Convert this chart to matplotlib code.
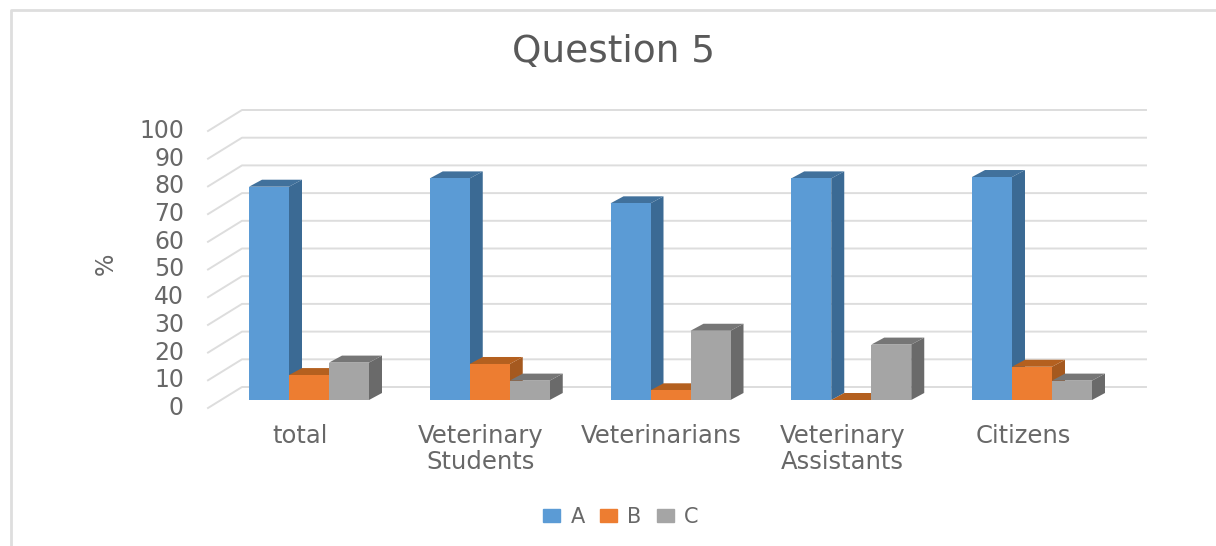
import matplotlib
matplotlib.use('Agg')
import numpy as np
import matplotlib.pyplot as plt
from matplotlib.patches import Polygon, Rectangle, Patch

categories = ['total', 'Veterinary\nStudents', 'Veterinarians', 'Veterinary\nAssistants', 'Citizens']
series_a = [77, 80, 71, 80, 80.5]
series_b = [9, 13, 3.5, 0, 12]
series_c = [13.5, 7, 25, 20, 7]
y_ticks = list(range(0, 101, 10))

TEXT = '#686868'
GRID = '#DDDDDD'

# scale of the picture: one category = 180.75 px, one percent = 2.77 px
PX_X = 180.75
PX_Y = 2.77
X0, Y0 = 309, 400  # pixel of category 0 / value 0


def xd(px):
    return (px - X0) / PX_X


def yd(px):
    return (Y0 - px) / PX_Y


fig = plt.figure(figsize=(12.16, 5.46), dpi=100)
ax = fig.add_axes([0, 0, 1, 1])
ax.set_xlim(xd(0), xd(1216))
ax.set_ylim(yd(546), yd(0))
ax.axis('off')

# page border, top and left only
ax.plot([xd(11), xd(11), xd(1216)], [yd(546), yd(10), yd(10)], color='#DEDEDE', lw=2)

# gridlines on the floor and back wall
for v in y_ticks:
    front = v - 8 / PX_Y
    back = v + 13 / PX_Y
    ax.plot([xd(208), xd(242), xd(1146)], [front, back, back], color=GRID, lw=1.4, zorder=1)
    ax.text(xd(184), front, str(v), ha='right', va='center', fontsize=17, color=TEXT)

# bars with a fake 3D depth
bar_w = 40 / PX_X
dep_x = 13 / PX_X
dep_y = 7 / PX_Y
series = [
    (series_a, -bar_w, '#5B9BD5', '#3B6A94', '#41719C'),
    (series_b, 0, '#ED7D31', '#A5591F', '#B4601F'),
    (series_c, bar_w, '#A5A5A5', '#6A6A6A', '#767676'),
]
for i in range(len(categories)):
    for vals, off, col, side, top in series:
        left = i + off - bar_w / 2
        right = left + bar_w
        h = vals[i]
        ax.add_patch(Polygon([(right, 0), (right + dep_x, dep_y), (right + dep_x, h + dep_y), (right, h)],
                             fc=side, ec='none', zorder=3))
        ax.add_patch(Polygon([(left, h), (left + dep_x, h + dep_y), (right + dep_x, h + dep_y), (right, h)],
                             fc=top, ec='none', zorder=3))
        ax.add_patch(Rectangle((left, 0), bar_w, h, fc=col, ec='none', zorder=3))

# category labels
for i, name in enumerate(categories):
    ax.text(i - 9 / PX_X, yd(424), name, ha='center', va='top', fontsize=17.5, color=TEXT,
            linespacing=1.1)

ax.text(xd(106), yd(264), '%', rotation=90, ha='center', va='center', fontsize=17, color=TEXT)
fig.text(613 / 1216, 1 - 52 / 546, 'Question 5', ha='center', va='center', fontsize=27, color='#595959')

handles = [Patch(color='#5B9BD5', label='A'), Patch(color='#ED7D31', label='B'), Patch(color='#A5A5A5', label='C')]
fig.legend(handles=handles, loc='center', bbox_to_anchor=(621 / 1216, 1 - 517 / 546), ncol=3, frameon=False,
           fontsize=15, labelcolor=TEXT, handlelength=0.8, handleheight=0.6, handletextpad=0.5, columnspacing=0.75)

plt.savefig('out.png', dpi=100)
